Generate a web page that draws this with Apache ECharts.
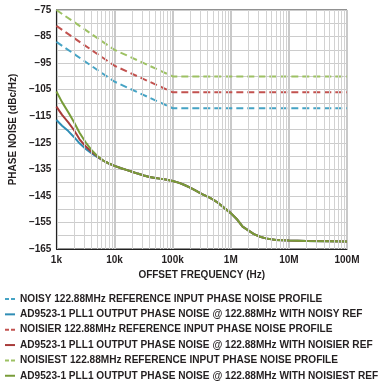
<!DOCTYPE html>
<html><head><meta charset="utf-8">
<script src="https://cdn.jsdelivr.net/npm/echarts@6/dist/echarts.min.js"></script>
<style>html,body{margin:0;padding:0;background:#fff}#c{width:381px;height:388px}</style>
</head><body><div id="c"></div>
<script>
const refFreq = [1e3, 1e4, 1e5, 1e8];
const noisyRef = [-87, -102, -112, -112];
const noisierRef = [-81, -96, -106, -106];
const noisiestRef = [-75, -90, -100, -100];

const outFreq = [1000,1250,1600,2000,2500,3200,4000,5000,6300,8000,10000,13000,16000,20000,25000,32000,40000,50000,60000,80000,100000,130000,160000,200000,250000,320000,400000,500000,600000,800000,1e6,1.3e6,1.6e6,2e6,2.5e6,3.2e6,4e6,6e6,1e7,2e7,5e7,1e8];
const tail = [-131.6,-132.8,-133.7,-134.6,-135.2,-135.9,-136.6,-137.3,-137.9,-138.3,-138.5,-138.9,-139.4,-140.1,-140.9,-141.9,-143.0,-144.3,-145.3,-146.4,-147.6,-149.8,-151.5,-154.0,-156.6,-158.0,-159.4,-160.4,-161.0,-161.6,-161.8,-162.0,-162.1,-162.2];
const outNoisy = [-116.4,-118.6,-120.6,-122.8,-125.2,-127.3,-128.9,-130.3].concat(tail);
const outNoisier = [-111.4,-114.5,-117.3,-120.2,-123.7,-126.4,-128.4,-130.1].concat(tail);
const outNoisiest = [-105.7,-109.7,-113.5,-117.2,-121.2,-124.9,-127.7,-129.9].concat(tail);

const minorFreqs = [];
[1e3,1e4,1e5,1e6,1e7].forEach(d => { for (let k = 2; k <= 9; k++) minorFreqs.push(d*k); });
const xTickLabels = {1000:'1k',10000:'10k',100000:'100k',1000000:'1M',10000000:'10M',100000000:'100M'};

const names = [
 'NOISY 122.88MHz REFERENCE INPUT PHASE NOISE PROFILE',
 'AD9523-1 PLL1 OUTPUT PHASE NOISE @ 122.88MHz WITH NOISY REF',
 'NOISIER 122.88MHz REFERENCE INPUT PHASE NOISE PROFILE',
 'AD9523-1 PLL1 OUTPUT PHASE NOISE @ 122.88MHz WITH NOISIER REF',
 'NOISIEST 122.88MHz REFERENCE INPUT PHASE NOISE PROFILE',
 'AD9523-1 PLL1 OUTPUT PHASE NOISE @ 122.88MHz WITH NOISIEST REF'
];
const colors = ['#45a3c4','#2f8db5','#c2524f','#a83b3a','#9dc163','#789c39'];
const zip = (xs, ys) => xs.map((x,i) => [x, ys[i]]);
const seriesData = [zip(refFreq,noisyRef), zip(outFreq,outNoisy), zip(refFreq,noisierRef), zip(outFreq,outNoisier), zip(refFreq,noisiestRef), zip(outFreq,outNoisiest)];
const font = 'Liberation Sans, Arial, sans-serif';
const txt = '#231f20';
const dashIcon = 'path://M0,0h4v2h-4zM6,0h4v2h-4z';
const solidIcon = 'path://M0,0h10v2h-10z';

const series = [{
  type:'line', data:[], silent:true, z:1,
  markLine:{silent:true, symbol:'none', label:{show:false},
    lineStyle:{color:'#d2d2d2', width:1, type:'solid'},
    data: minorFreqs.map(f => ({xAxis:f}))}
}];
names.forEach((n,i) => {
  const dashed = i % 2 === 0;
  series.push({
    name:n, type:'line', data:seriesData[i], showSymbol:false, symbol:'none', z:3+(i%2),
    lineStyle:{color:colors[i], width:2, type: dashed ? [7,4] : 'solid'},
    itemStyle:{color:colors[i]}
  });
});

const chart = echarts.init(document.getElementById('c'));
chart.setOption({
  animation:false,
  backgroundColor:'#fff',
  grid:{left:48, right:34, top:10, bottom:139, show:true, borderColor:'#222', borderWidth:1, backgroundColor:'transparent'},
  xAxis:{type:'log', logBase:10, min:1e3, max:1e8,
    name:'OFFSET FREQUENCY (Hz)', nameLocation:'middle', nameGap:21,
    nameTextStyle:{fontFamily:font, fontWeight:'bold', fontSize:10, color:txt},
    axisLine:{show:true, lineStyle:{color:'#222', width:1}},
    axisTick:{show:false},
    axisLabel:{fontFamily:font, fontWeight:'bold', fontSize:10, color:txt, margin:6,
      formatter: v => xTickLabels[Math.round(v)] || ''},
    splitLine:{show:true, lineStyle:{color:'#c9c9c9', width:2}}
  },
  yAxis:{type:'value', min:-165, max:-75, interval:5,
    name:'PHASE NOISE (dBc/Hz)', nameLocation:'middle', nameGap:36,
    nameTextStyle:{fontFamily:font, fontWeight:'bold', fontSize:10, color:txt},
    axisLine:{show:true, lineStyle:{color:'#222', width:1}},
    axisTick:{show:false},
    axisLabel:{fontFamily:font, fontWeight:'bold', fontSize:10, color:txt, margin:5,
      formatter: v => ((v + 75) % 10 === 0) ? String(v).replace('-', '\u2212') : ''},
    splitLine:{show:true, lineStyle:{color:'#cccccc', width:1}}
  },
  legend:{orient:'vertical', left:5, top:294, itemWidth:10, itemHeight:10, itemGap:5.35,
    padding:0, symbolKeepAspect:true,
    data:names.map((n,i) => ({name:n, icon: i%2===0 ? dashIcon : solidIcon})),
    textStyle:{fontFamily:font, fontWeight:'bold', fontSize:10.1, lineHeight:10, color:txt, padding:[0,0,0,0]}},
  series: series
});
</script></body></html>
